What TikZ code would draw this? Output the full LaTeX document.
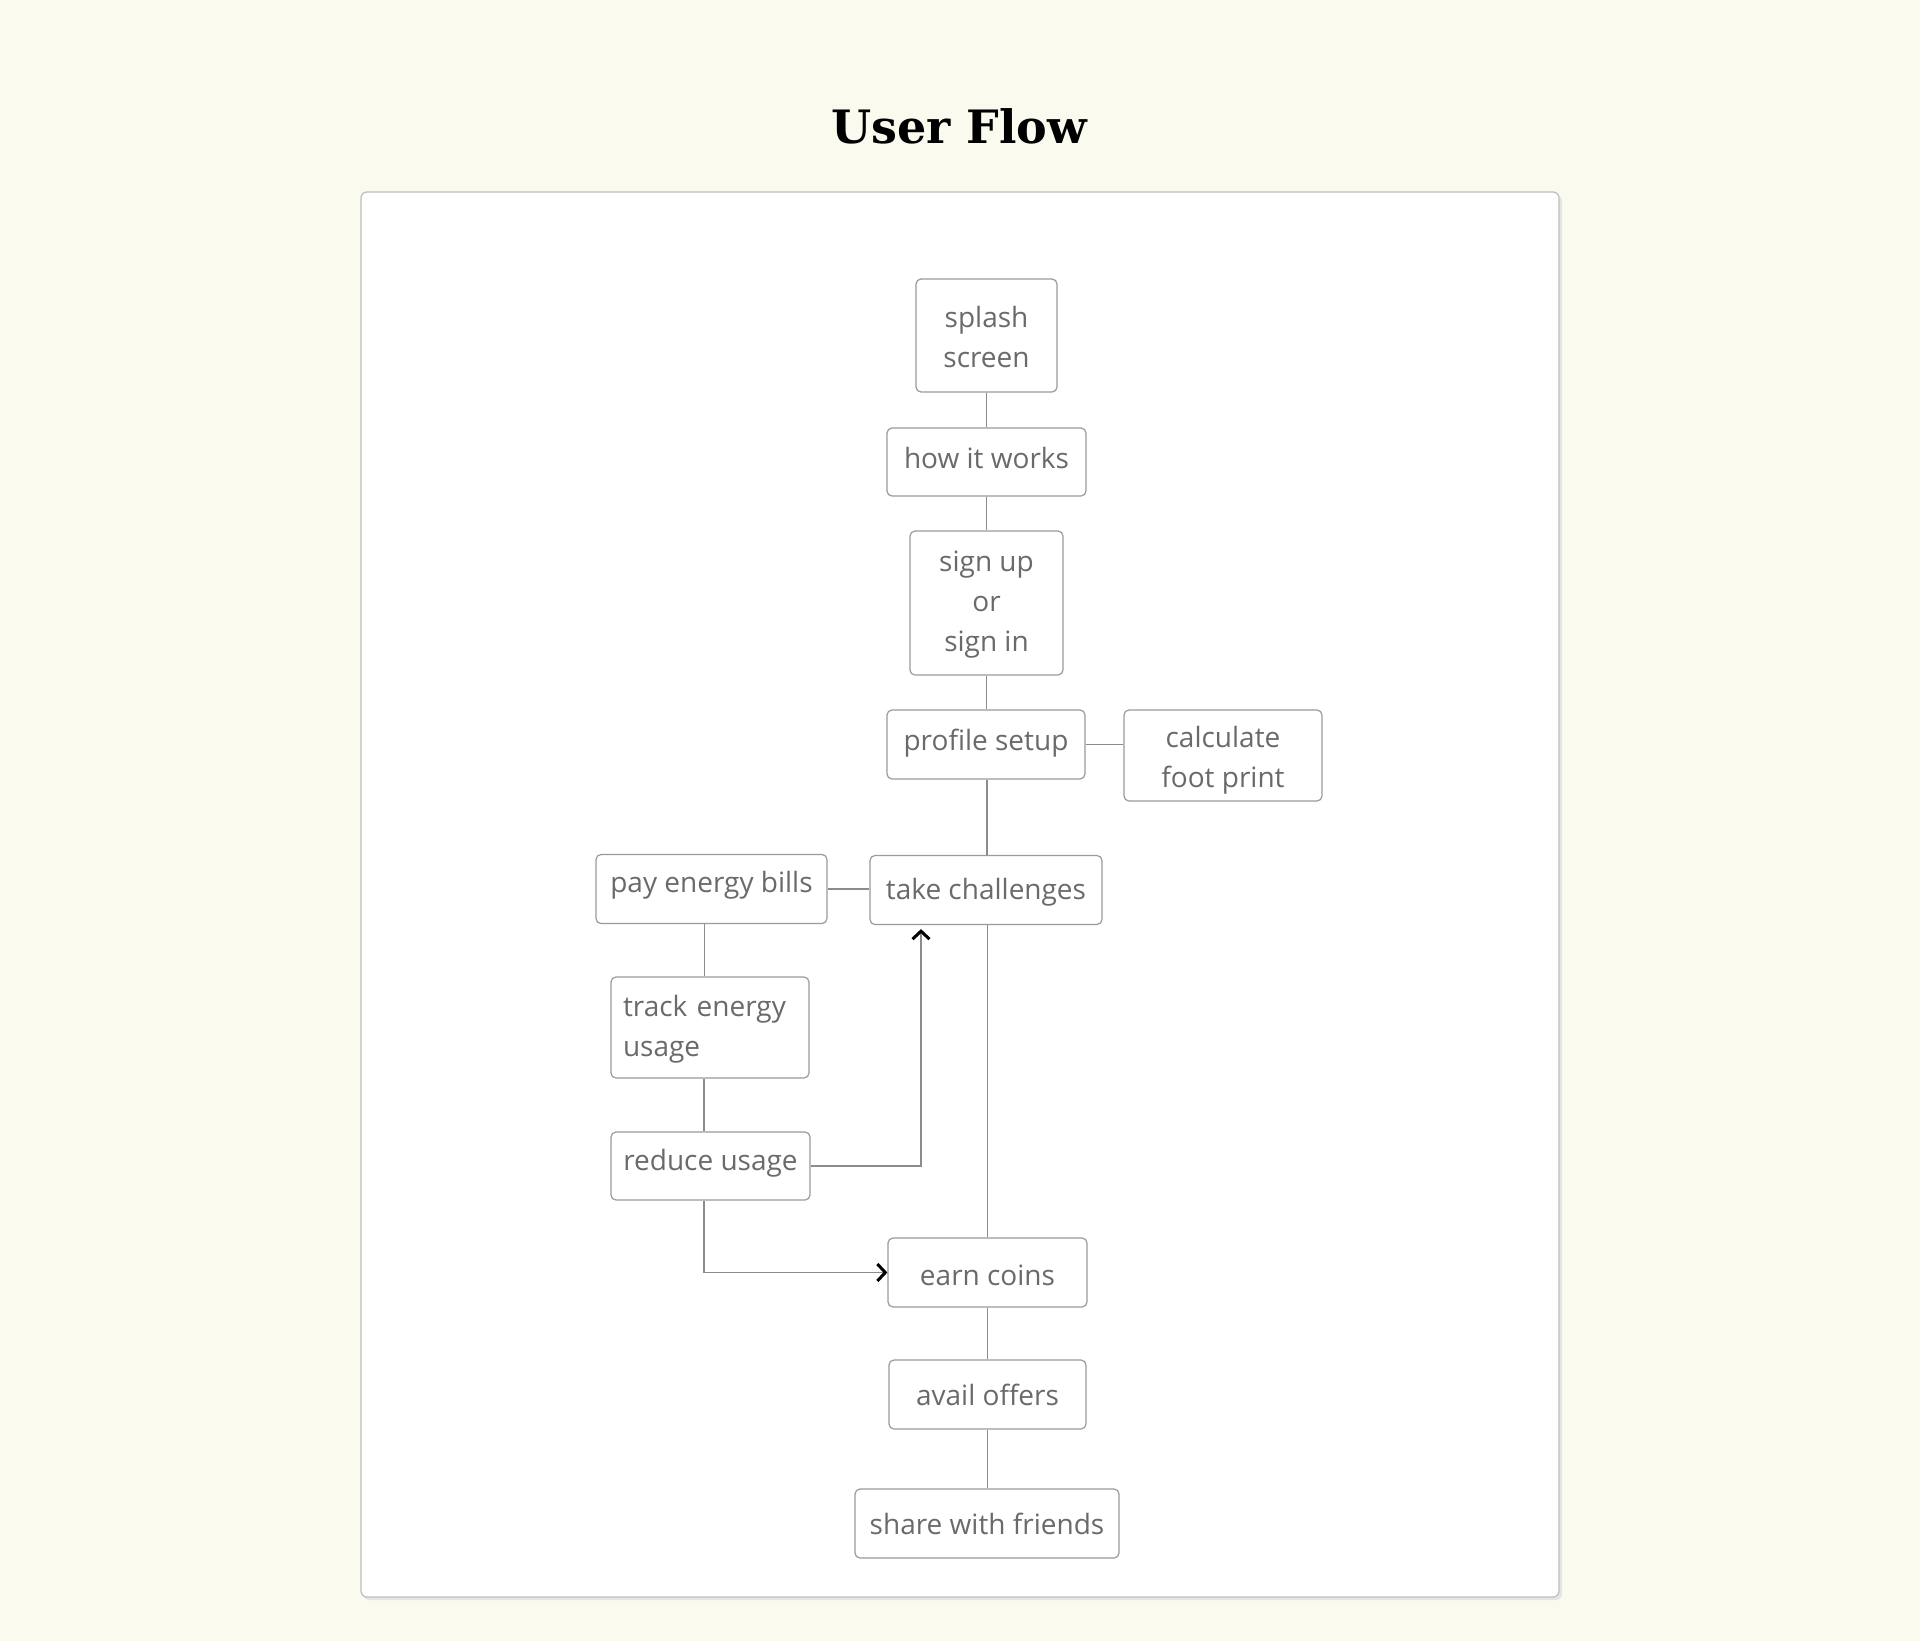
\documentclass[tikz,border=0pt]{standalone}
\usepackage{fontspec}
\setmainfont{Open Sans}
\newfontfamily\titlefont{DejaVu Serif}
\usetikzlibrary{arrows.meta}
\definecolor{bg}{HTML}{FAFBEE}
\definecolor{boxline}{HTML}{9A9A9A}
\definecolor{conn}{HTML}{8C8C8C}
\definecolor{txt}{HTML}{6A6A6A}
\definecolor{panelline}{HTML}{BDBDBD}
\newcommand{\shc}[2]{\raisebox{#1}[\height][\depth]{\begin{tabular}{@{}c@{}}#2\end{tabular}}}
\newcommand{\shl}[2]{\raisebox{#1}[\height][\depth]{\begin{tabular}{@{}l@{}}#2\end{tabular}}}
\newcommand{\shs}[2]{\raisebox{#1}[\height][\depth]{#2}}
\tikzset{
  box/.style={draw=boxline, line width=1.2pt, rounded corners=5pt, fill=white,
    font=\fontsize{28}{40}\selectfont, text=txt, inner sep=0pt, align=center},
  conn/.style={draw=conn, line width=1.3pt},
  arr/.style={conn, -{Straight Barb[length=8pt,width=17pt,line width=3pt,color=black]}},
}
\begin{document}
\begin{tikzpicture}[x=1pt,y=-1pt]
\fill[bg] (0,0) rectangle (1920,1641);
\useasboundingbox (0,0) rectangle (1920,1641);
% title
\node[font=\titlefont\bfseries\fontsize{46}{50}\selectfont, anchor=base] (title) at (959,143) {User Flow};
% panel
\fill[black!10, rounded corners=6pt] (363,195) rectangle (1562,1600);
\draw[panelline, fill=white, line width=1.2pt, rounded corners=6pt] (361,192) rectangle (1559,1597);

% nodes
\node[box, minimum width=141pt, minimum height=113pt] (splash) at (986.5,335.5) {\shc{-4pt}{splash\\screen}};
\node[box, minimum width=199pt, minimum height=68pt] (how) at (986.5,462) {\shs{4pt}{how it works}};
\node[box, minimum width=153pt, minimum height=144pt] (sign) at (986.5,603) {\shc{0pt}{sign up\\or\\sign in}};
\node[box, minimum width=198pt, minimum height=69pt] (profile) at (986,744.5) {\shs{1pt}{profile setup}};
\node[box, minimum width=198pt, minimum height=91pt] (calc) at (1223,755.5) {\shc{-4pt}{calculate\\foot print}};
\node[box, minimum width=232pt, minimum height=69pt] (take) at (986,890) {\shs{-2.5pt}{take challenges}};
\node[box, minimum width=231pt, minimum height=69pt] (pay) at (711.5,889) {\shs{4pt}{pay energy bills}};
\node[box, minimum width=198pt, minimum height=101pt, text width=174pt, align=left] (track) at (710,1027.5) {\shl{-1pt}{track energy\\usage}};
\node[box, minimum width=199pt, minimum height=68pt] (reduce) at (710.5,1166) {\shs{2.5pt}{reduce usage}};
\node[box, minimum width=199pt, minimum height=69pt] (earn) at (987.5,1272.5) {\shs{-2.5pt}{earn coins}};
\node[box, minimum width=197pt, minimum height=69pt] (avail) at (987.5,1394.5) {avail offers};
\node[box, minimum width=264pt, minimum height=69pt] (share) at (987,1523.5) {share with friends};

% connectors
\draw[conn] (splash.south) -- (splash.south |- how.north);
\draw[conn] (how.south) -- (how.south |- sign.north);
\draw[conn] (sign.south) -- (sign.south |- profile.north);
\draw[conn] (profile.east) -- (profile.east -| calc.west);
\draw[conn] ([xshift=1pt]profile.south) -- ([xshift=1pt]profile.south |- take.north);
\draw[conn] (pay.east) -- (pay.east -| take.west);
\draw[conn] ([xshift=1.5pt]take.south) -- ([xshift=1.5pt]take.south |- earn.north);
\draw[conn] ([xshift=-7pt]pay.south) -- ([xshift=-7pt]pay.south |- track.north);
\draw[conn] ([xshift=-6pt]track.south) -- ([xshift=-6pt]track.south |- reduce.north);
\draw[arr] (reduce.east) -| ([xshift=-65pt,yshift=-4pt]take.south);
\draw[arr] ([xshift=-6.5pt]reduce.south) |- (earn.west);
\draw[conn] (earn.south) -- (earn.south |- avail.north);
\draw[conn] (avail.south) -- (avail.south |- share.north);
\end{tikzpicture}
\end{document}
